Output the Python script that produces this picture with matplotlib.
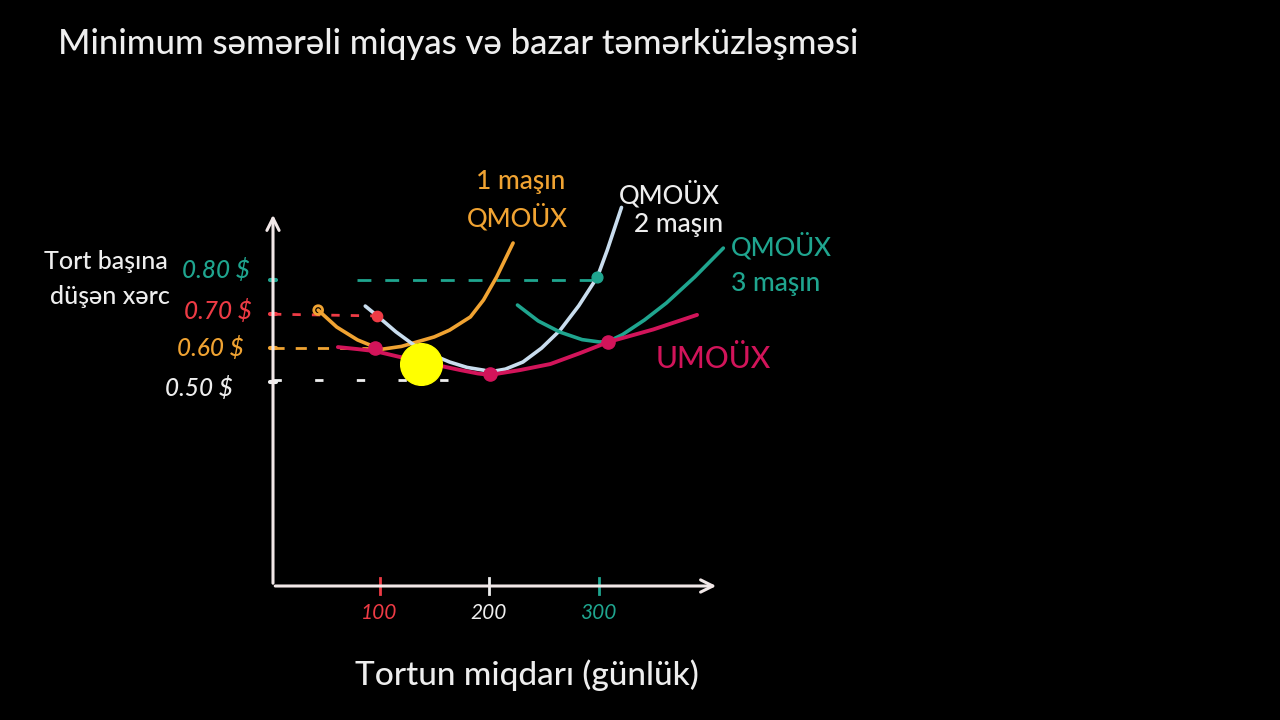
import matplotlib
matplotlib.use("Agg")
import matplotlib.pyplot as plt

plt.rcParams['font.family'] = ['Lato', 'DejaVu Sans']

# ---------------- data ----------------
# Quantity of cakes per day (x) and cost per cake in $ (y)
sratc1_x = [44, 61, 80, 96, 103, 120, 134, 150, 164, 183, 195, 207, 222]
sratc1_y = [0.712, 0.662, 0.624, 0.603, 0.597, 0.605, 0.618, 0.633, 0.653, 0.692, 0.742, 0.810, 0.910]

sratc2_x = [87, 98, 115, 134, 150, 164, 180, 195, 201, 215, 231, 248, 265, 282, 299, 308, 321]
sratc2_y = [0.724, 0.695, 0.648, 0.603, 0.578, 0.559, 0.543, 0.535, 0.530, 0.538, 0.559, 0.600, 0.653, 0.725, 0.810, 0.889, 1.015]

sratc3_x = [226, 245, 265, 285, 301, 310, 322, 342, 362, 388, 414]
sratc3_y = [0.727, 0.680, 0.647, 0.625, 0.618, 0.621, 0.640, 0.683, 0.733, 0.810, 0.895]

lratc_x = [62, 80, 96, 117, 137, 155, 174, 190, 201, 228, 256, 283, 309, 350, 390]
lratc_y = [0.603, 0.597, 0.591, 0.575, 0.562, 0.548, 0.535, 0.525, 0.521, 0.535, 0.553, 0.585, 0.618, 0.655, 0.698]

price_levels = [0.80, 0.70, 0.60, 0.50]
price_labels = ["0.80 $", "0.70 $", "0.60 $", "0.50 $"]
qty_ticks = [100, 200, 300]
qty_labels = ["100", "200", "300"]

# highlighted points
dots_x = [98, 96, 201, 309]
dots_y = [0.695, 0.600, 0.524, 0.618]
teal_dot = (299, 0.810)
start_circle = (44, 0.712)
cursor = (138, 0.553)

# ---------------- style ----------------
BG = "black"
WHITE = "#EEEEEE"
AXIS = "#F2E8E8"
ORANGE = "#F0A332"
TEAL = "#1FA58F"
RED = "#EE3B45"
CRIMSON = "#D2145A"
LIGHT = "#C9DDEE"
W = "medium"

fig = plt.figure(figsize=(12.8, 7.2), dpi=100, facecolor=BG)
ax = fig.add_axes([0, 0, 1, 1], facecolor=BG)


def P(px, py):
    """pixel position -> data coordinates (for placing annotations)"""
    return (px - 270) / 1.095, 0.5 + (382 - py) / 339.0


x0, y0 = P(0, 720)
x1, y1 = P(1280, 0)
ax.set_xlim(x0, x1)
ax.set_ylim(y0, y1)
ax.axis("off")

# axes (hand-drawn style arrows)
ax_left, ax_bottom = P(273, 586)
_, ax_top = P(273, 212)
ax_right, _ = P(719, 586)
ax.annotate("", xy=(ax_left, ax_top), xytext=(ax_left, ax_bottom),
            arrowprops=dict(arrowstyle="->", color=AXIS, lw=2.2, mutation_scale=22))
ax.annotate("", xy=(ax_right, ax_bottom), xytext=(ax_left - 0.5, ax_bottom),
            arrowprops=dict(arrowstyle="->", color=AXIS, lw=2.2, mutation_scale=22))

# y tick marks and labels
ycols = [TEAL, RED, ORANGE, WHITE]
label_right = [250, 252, 244, 233]
label_dy = [-10, -3, 0, 6]
for lv, lab, c, xr, dy in zip(price_levels, price_labels, ycols, label_right, label_dy):
    ax.plot([ax_left - 2.5, ax_left + 2.5], [lv, lv], color=c, lw=3, solid_capstyle="round")
    lx, ly = P(xr, 0)
    ax.text(lx, lv - dy / 339.0, lab, color=c, fontsize=17.5, style="italic",
            ha="right", va="center", fontweight=W)

# x tick marks and labels
xcols = [RED, WHITE, TEAL]
for q, lab, c in zip(qty_ticks, qty_labels, xcols):
    ax.plot([q, q], [ax_bottom - 0.025, ax_bottom + 0.025], color=c, lw=2)
    _, ly = P(0, 613)
    ax.text(q, ly, lab, color=c, fontsize=15, ha="center", va="center", style="italic")

# dashed guide lines
ax.plot([P(357, 0)[0], P(592, 0)[0]], [0.80, 0.80], color=TEAL, lw=2,
        dashes=(5, 5))
ax.plot([ax_left, 96], [0.70, 0.695], color=RED, lw=2, dashes=(3, 4))
ax.plot([ax_left, 92], [0.60, 0.60], color=ORANGE, lw=2, dashes=(4, 4))
ax.plot([ax_left, P(448, 0)[0]], [0.505, 0.505], color=WHITE, lw=2, dashes=(3, 12))

# cost curves
ax.plot(sratc1_x, sratc1_y, color=ORANGE, lw=2.6, solid_capstyle="round")
ax.plot(sratc2_x, sratc2_y, color=LIGHT, lw=2.6, solid_capstyle="round")
ax.plot(sratc3_x, sratc3_y, color=TEAL, lw=2.6, solid_capstyle="round")
ax.plot(lratc_x, lratc_y, color=CRIMSON, lw=2.8, solid_capstyle="round")

# points
ax.scatter([dots_x[0]], [dots_y[0]], s=55, color=RED, zorder=5)
ax.scatter(dots_x[1:], dots_y[1:], s=90, color=CRIMSON, zorder=5)
ax.scatter([teal_dot[0]], [teal_dot[1]], s=60, color=TEAL, zorder=5)
ax.scatter([start_circle[0]], [start_circle[1]], s=40, facecolor="none",
           edgecolor=ORANGE, linewidth=2, zorder=5)
ax.scatter([cursor[0]], [cursor[1]], s=900, color="#FFFF00", zorder=6)

# curve labels
ax.text(*P(521, 181), "1 maşın", color=ORANGE, fontsize=19, ha="center", va="center", fontweight=W)
ax.text(*P(517, 218), "QMOÜX", color=ORANGE, fontsize=18.5, ha="center", va="center", fontweight=W)
ax.text(*P(619, 195), "QMOÜX", color=WHITE, fontsize=18.5, ha="left", va="center", fontweight=W)
ax.text(*P(634, 225), "2 maşın", color=WHITE, fontsize=19, ha="left", va="center", fontweight=W)
ax.text(*P(731, 247), "QMOÜX", color=TEAL, fontsize=18.5, ha="left", va="center", fontweight=W)
ax.text(*P(731, 284), "3 maşın", color=TEAL, fontsize=19, ha="left", va="center", fontweight=W)
ax.text(*P(656, 359), "UMOÜX", color=CRIMSON, fontsize=21.5, ha="left", va="center", fontweight=W)

# axis titles
ax.text(*P(106, 262), "Tort başına", color=WHITE, fontsize=18, ha="center", va="center", fontweight=W)
ax.text(*P(110, 297), "düşən xərc", color=WHITE, fontsize=18, ha="center", va="center", fontweight=W)
ax.text(*P(527, 675), "Tortun miqdarı (günlük)", color=WHITE, fontsize=24, ha="center",
        va="center", fontweight=W)

# title
fig.text(58 / 1280, 1 - 44 / 720, "Minimum səmərəli miqyas və bazar təmərküzləşməsi",
         color=WHITE, fontsize=25, ha="left", va="center", fontweight=W)

fig.savefig("out.png", dpi=100, facecolor=BG)
